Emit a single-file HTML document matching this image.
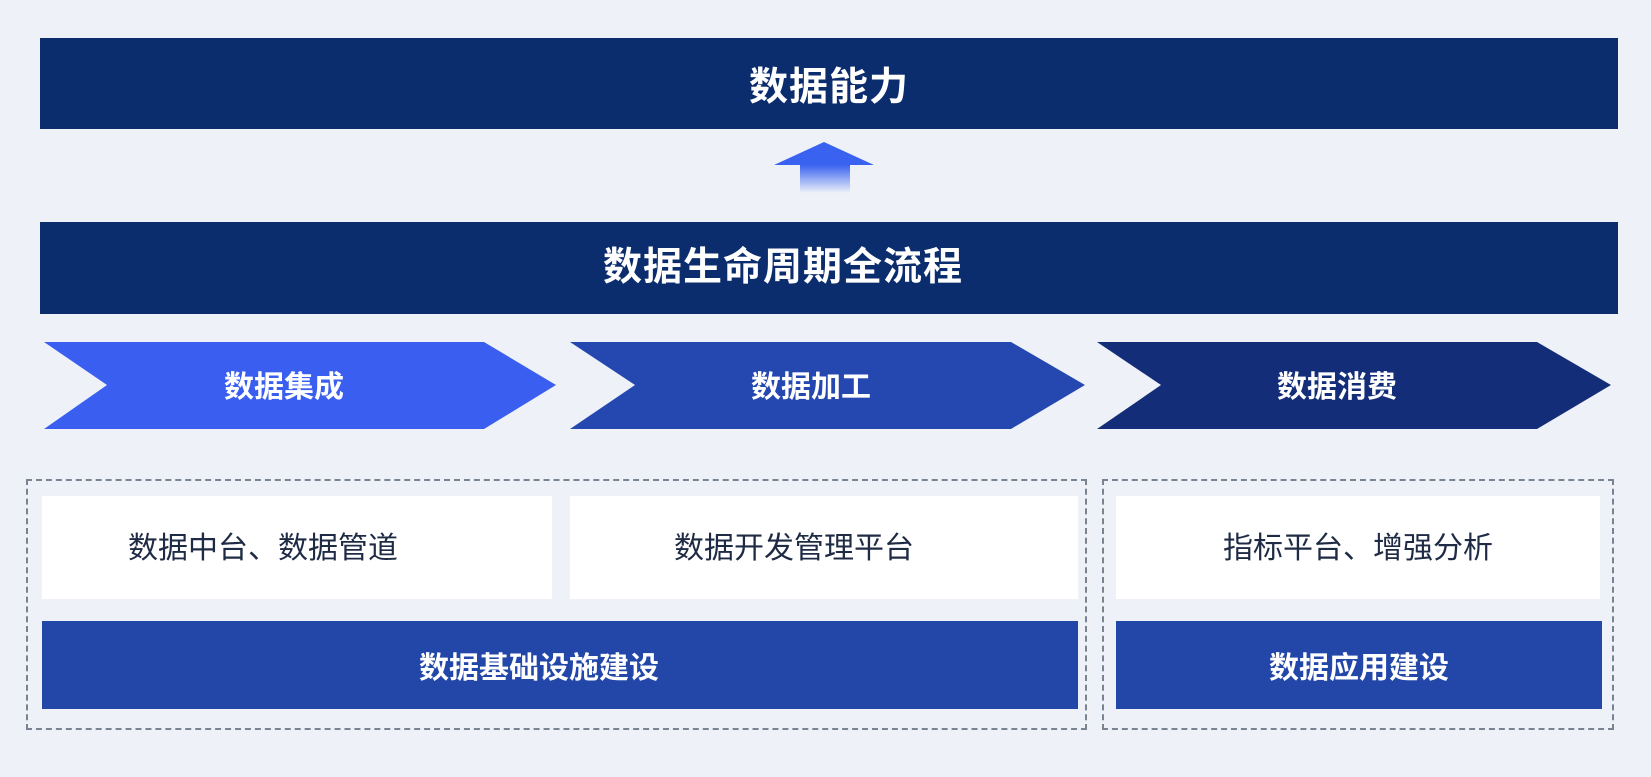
<!DOCTYPE html>
<html><head><meta charset="utf-8"><style>
html,body{margin:0;padding:0;}
body{width:1651px;height:777px;background:#eef2f8;position:relative;overflow:hidden;font-family:"Liberation Sans","Noto Sans CJK SC",sans-serif;}
.a{position:absolute;display:flex;align-items:center;justify-content:center;box-sizing:border-box;}
.bar{background:#0b2c6d;color:#fff;font-weight:bold;font-size:39px;letter-spacing:1px;}
.w{background:#fff;color:#1f2b45;font-size:30px;}
.b{background:#2347a9;color:#fff;font-weight:bold;font-size:30px;}
.d{position:absolute;border:2px dashed #7a8392;box-sizing:border-box;}
</style></head><body>
<div class="a bar" style="left:40px;top:38px;width:1578px;height:91px;">数据能力</div>
<svg style="position:absolute;left:0;top:0" width="1651" height="777">
<defs><linearGradient id="g" x1="0" y1="0" x2="0" y2="1">
<stop offset="0" stop-color="#3a62f0"/><stop offset="1" stop-color="#3a62f0" stop-opacity="0"/></linearGradient></defs>
<polygon points="774,165 824,142 874,165" fill="#3a62f0"/>
<rect x="800" y="165" width="50" height="28" fill="url(#g)"/>
<polygon points="44,342 484,342 556,385 484,429 44,429 107,385" fill="#3a5ff0"/>
<polygon points="570,342 1011,342 1085,385 1011,429 570,429 635,385" fill="#2448b0"/>
<polygon points="1097,342 1537,342 1611,385 1537,429 1097,429 1161,385" fill="#142d79"/>
<g fill="#fff" font-weight="bold" font-size="30" text-anchor="middle" font-family="Liberation Sans, Noto Sans CJK SC, sans-serif">
<text x="284" y="397">数据集成</text>
<text x="811" y="397">数据加工</text>
<text x="1337" y="397">数据消费</text>
</g>
</svg>
<div class="a bar" style="left:40px;top:222px;width:1578px;height:92px;padding-right:92px;padding-bottom:8px;">数据生命周期全流程</div>
<div class="d" style="left:26px;top:479px;width:1061px;height:251px;"></div>
<div class="d" style="left:1102px;top:479px;width:512px;height:251px;"></div>
<div class="a w" style="left:42px;top:496px;width:510px;height:103px;padding-right:68px;padding-bottom:6px;">数据中台、数据管道</div>
<div class="a w" style="left:570px;top:496px;width:508px;height:103px;padding-right:60px;padding-bottom:6px;">数据开发管理平台</div>
<div class="a w" style="left:1116px;top:496px;width:484px;height:103px;padding-bottom:6px;">指标平台、增强分析</div>
<div class="a b" style="left:42px;top:621px;width:1036px;height:88px;padding-right:42px;">数据基础设施建设</div>
<div class="a b" style="left:1116px;top:621px;width:486px;height:88px;">数据应用建设</div>
</body></html>
